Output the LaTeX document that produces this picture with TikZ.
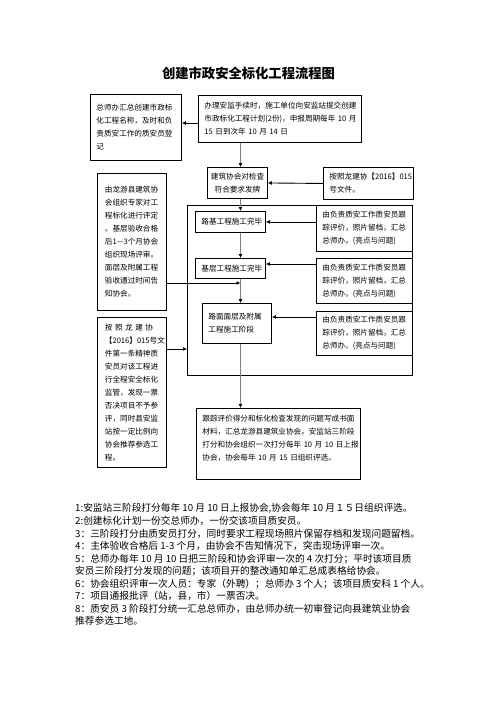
\documentclass[tikz,border=0pt]{standalone}
\usepackage{fontspec}
\setmainfont{Noto Sans CJK SC}
\usetikzlibrary{arrows.meta}
\newcommand\boxfont{\fontsize{7.6}{13}\selectfont}
\newcommand\notefont{\fontsize{9.7}{12.56}\selectfont}
\tikzset{
  box/.style={draw, line width=0.9pt, anchor=north west, inner xsep=6pt,
      inner ysep=0pt, align=left, font=\boxfont},
  spine/.style={draw=gray, line width=1.7pt,
      -{Latex[black,length=4pt,width=4pt]}},
  feed/.style={draw, line width=0.9pt, -{Latex[length=4pt,width=4pt]}},
}
\begin{document}
\begin{tikzpicture}[x=1pt,y=-1pt]
\fill[white] (0,0) rectangle (496,702);
\useasboundingbox (0,0) rectangle (496,702);

\node[font=\fontsize{13.3}{16}\selectfont\bfseries] (title) at (248.5,73) {创建市政安全标化工程流程图};

% top row
\node[box, text width=79pt, minimum height=66pt] (A) at (90,94)
  {总师办汇总创建市政标\\化工程名称，及时和负\\责质安工作的质安员登\\记};
\node[box, text width=151pt, minimum height=47pt] (B) at (198,95)
  {\mbox{办理安监手续时，施工单位向安监站提交创建}\\\mbox{市政标化工程计划(2份)，申报周期每年~10~月}\\\mbox{15~日到次年~10~月~14~日}};

\node[box, align=center, inner xsep=3.5pt, text width=53pt, minimum height=31pt] (C) at (207,167)
  {建筑协会对检查\\符合要求发牌};
\node[box, text width=78pt, minimum height=32pt] (D) at (323,167)
  {\mbox{按照龙建协【2016】015}\\号文件。};

% stages
\node[draw, line width=0.9pt, anchor=north west, minimum width=225pt, minimum height=170pt] (stage) at (187,205) {};

\node[box, text width=58pt, minimum height=21pt] (E) at (195,211) {路基工程施工完毕};
\node[box, text width=84pt, minimum height=46pt] (F) at (316,205)
  {由负责质安工作质安员跟\\踪评价，照片留档，汇总\\总师办。(亮点与问题)};

\node[box, text width=58pt, minimum height=20pt] (G) at (195,258) {基层工程施工完毕};
\node[box, text width=84pt, minimum height=45pt] (H) at (316,258)
  {由负责质安工作质安员跟\\踪评价，照片留档，汇总\\总师办。(亮点与问题)};

\node[box, text width=57pt, minimum height=40pt] (I) at (202,303)
  {路面面层及附属\\工程施工阶段};
\node[box, text width=84pt, minimum height=44pt] (J) at (316,311)
  {由负责质安工作质安员跟\\踪评价，照片留档，汇总\\总师办。(亮点与问题)};

\node[box, text width=152pt, minimum height=71pt] (K) at (196,408)
  {\mbox{跟踪评价得分和标化检查发现的问题写成书面}\\\mbox{材料，汇总龙游县建筑业协会。安监站三阶段}\\\mbox{打分和协会组织一次打分每年~10~月~10~日上报}\\\mbox{协会，协会每年~10~月~15~日组织评选。}\\ \mbox{}};

% left column
\node[box, inner xsep=7.5pt, text width=54pt, minimum height=137pt] (L) at (97,173)
  {由龙游县建筑协\\会组织专家对工\\程标化进行评定\\。基层验收合格\\\mbox{后1—3个月协会}\\组织现场评审。\\面层及附属工程\\验收通过时间告\\知协会。};
\node[box, inner xsep=7.5pt, text width=54pt, minimum height=150pt] (M) at (97,317)
  {\makebox[54pt][s]{按 照 龙 建 协}\\\mbox{【2016】015号文}\\件第一条精神质\\安员对该工程进\\行全程安全标化\\监管，发现一票\\否决项目不予参\\评，同时县安监\\站按一定比例向\\协会推荐参选工\\程。};

% main line
\coordinate (spine) at (240.5,0);
\draw[spine] (B.south -| spine) -- (C.north -| spine);
\draw[spine] (C.south -| spine) -- (E.north -| spine);
\draw[spine] (E.south -| spine) -- (G.north -| spine);
\draw[spine] (G.south -| spine) -- (I.north -| spine);
\draw[spine] (I.south -| spine) -- (K.north -| spine);

% side arrows
\draw[feed] (B.west |- 0,123) -- (A.east |- 0,123);
\draw[feed] (D.west) -- (C.east);
\draw[feed] (F.west |- E.east) -- (E.east);
\draw[feed] (H.west |- 0,264) -- (G.east |- 0,264);
\draw[feed] (J.west |- 0,317) -- (I.east |- 0,317);
\draw[feed] (L.east |- 0,283) -- (spine |- 0,283);
\draw[feed] (M.east |- 0,349) -- (stage.west |- 0,349);

% notes
\node[anchor=north west, inner sep=0pt, align=left, font=\notefont] (notes) at (75,503.5)
  {1:安监站三阶段打分每年 10 月 10 日上报协会,协会每年 10 月１５日组织评选。\\
   2:创建标化计划一份交总师办，一份交该项目质安员。\\
   3：三阶段打分由质安员打分，同时要求工程现场照片保留存档和发现问题留档。\\
   4：主体验收合格后 1-3 个月，由协会不告知情况下，突击现场评审一次。\\
   5：总师办每年 10 月 10 日把三阶段和协会评审一次的 4 次打分；平时该项目质\\
   安员三阶段打分发现的问题；该项目开的整改通知单汇总成表格给协会。\\
   6：协会组织评审一次人员：专家（外聘）；总师办 3 个人；该项目质安科 1 个人。\\
   7：项目通报批评（站，县，市）一票否决。\\
   8：质安员 3 阶段打分统一汇总总师办，由总师办统一初审登记向县建筑业协会\\
   推荐参选工地。};
\end{tikzpicture}
\end{document}
